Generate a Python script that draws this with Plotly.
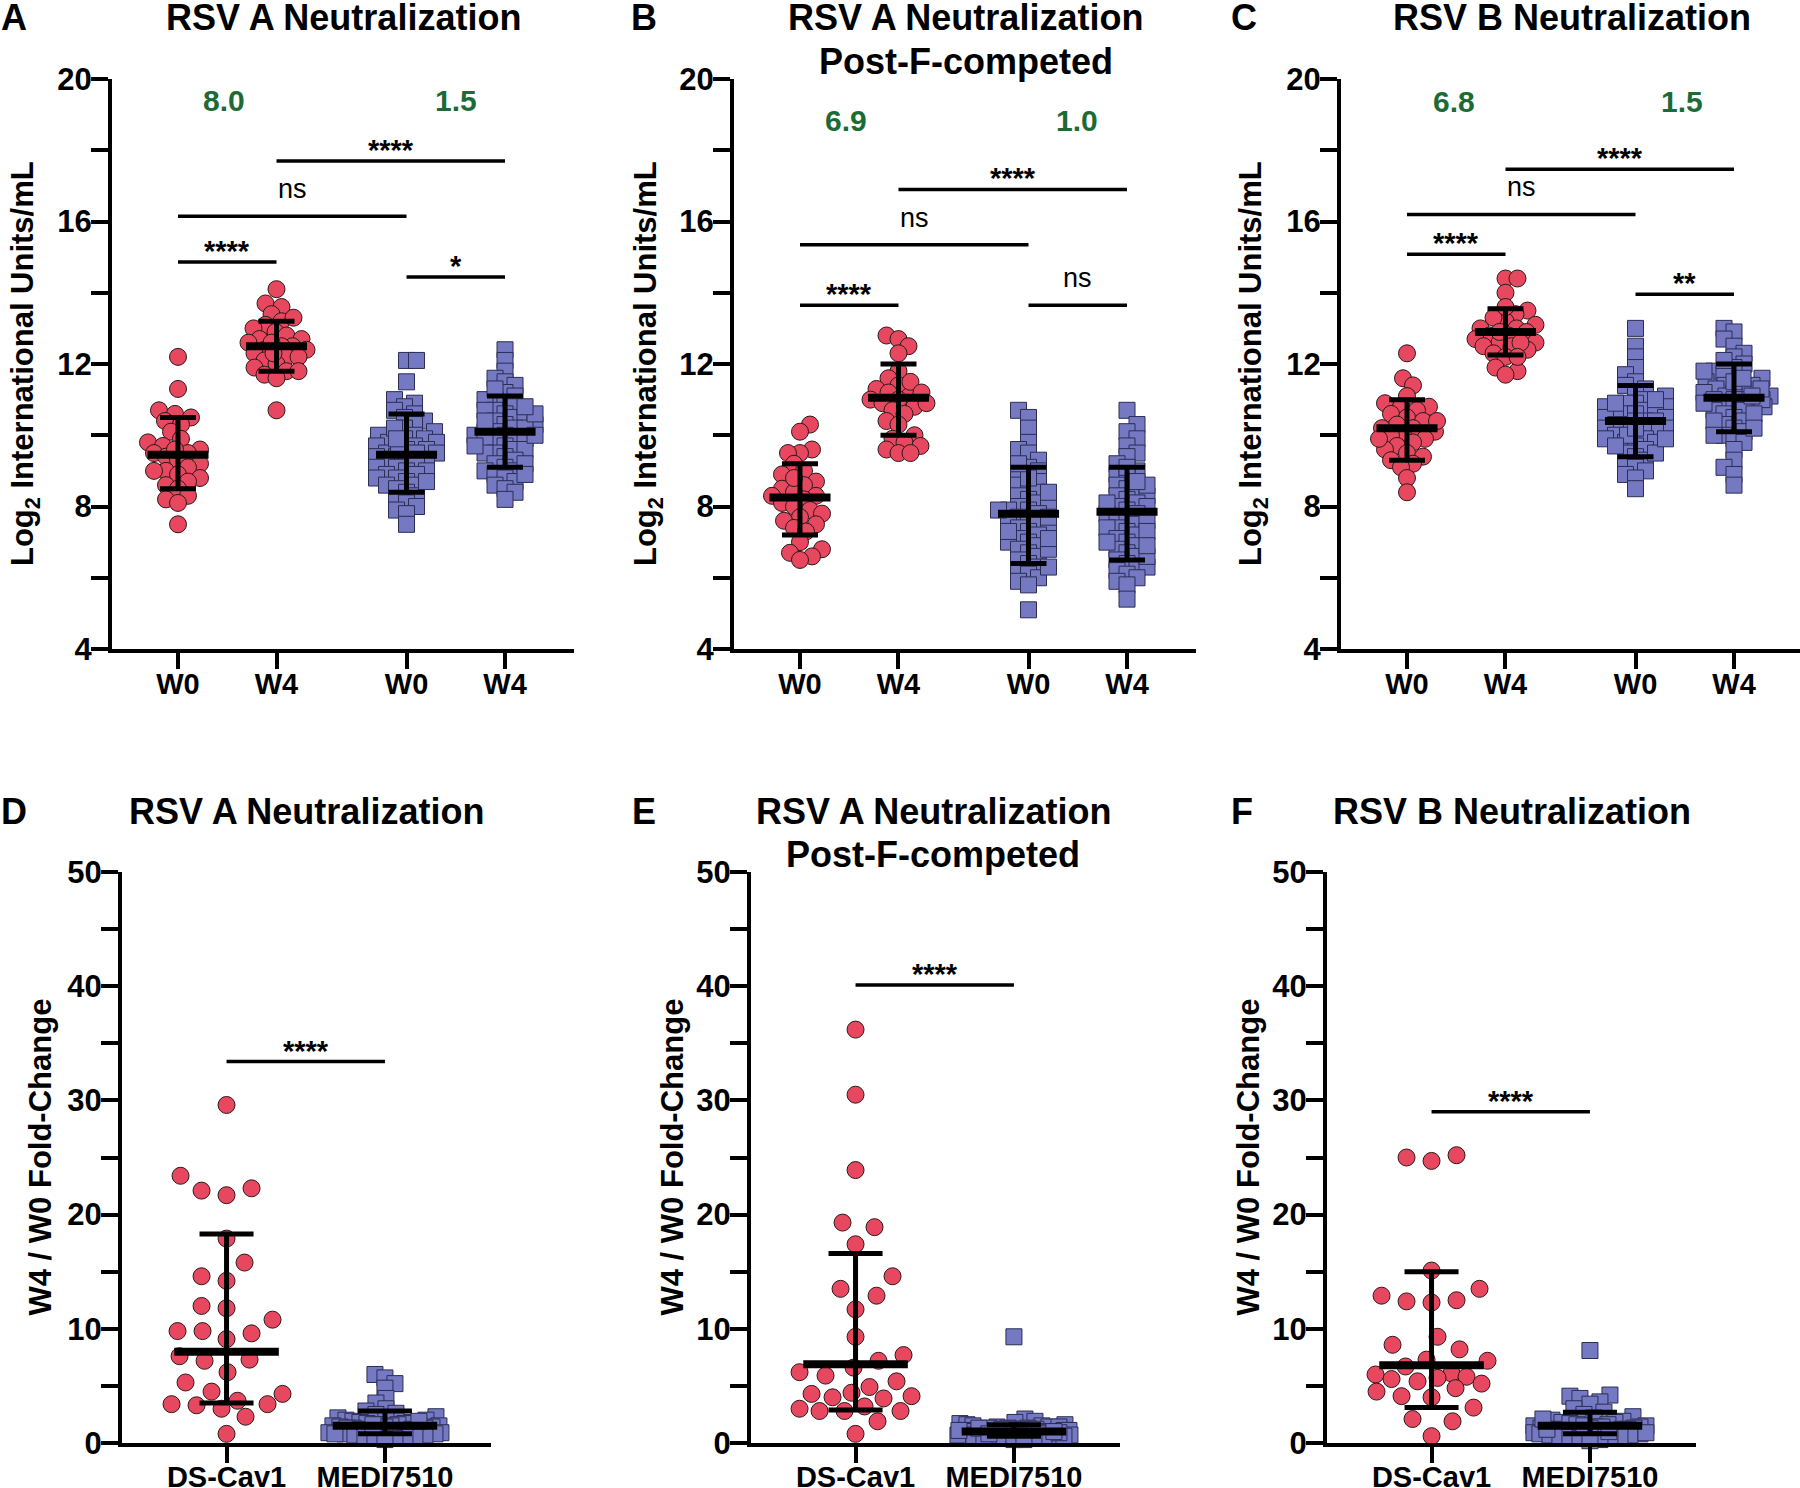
import numpy as np
import plotly.graph_objects as go

# ---- data ----
top_labels = ['W0', 'W4', 'W0', 'W4']
bottom_labels = ['DS-Cav1', 'MEDI7510']

# Panel A: RSV A neutralization, log2 IU/mL
a_ds_w0 = [12.2, 11.3, 10.7, 10.6, 10.5, 10.4, 10.3, 10.1, 9.9, 9.8, 9.7, 9.6, 9.5, 9.5, 9.4,
           9.3, 9.2, 9.1, 9.0, 9.0, 8.9, 8.8, 8.7, 8.6, 8.5, 8.3, 8.2, 8.1, 7.5, 9.6]
a_ds_w4 = [14.1, 13.7, 13.6, 13.4, 13.2, 13.1, 13.0, 12.9, 12.8, 12.7, 12.7, 12.6, 12.5, 12.5, 12.4,
           12.4, 12.3, 12.2, 12.2, 12.1, 12.0, 11.9, 11.8, 11.8, 11.7, 11.6, 12.6, 12.3, 13.3, 10.7]
a_medi_w0 = [12.1, 12.1, 11.5, 11.0, 10.9, 10.8, 10.7, 10.6, 10.5, 10.4, 10.3, 10.2, 10.1, 10.0, 10.0,
             9.9, 9.9, 9.8, 9.8, 9.7, 9.7, 9.6, 9.6, 9.5, 9.5, 9.5, 9.4, 9.4, 9.3, 9.3, 9.2, 9.2,
             9.1, 9.1, 9.0, 9.0, 8.9, 8.9, 8.8, 8.8, 8.7, 8.6, 8.6, 8.5, 8.4, 8.3, 8.2, 8.1, 8.0,
             7.9, 7.8, 7.5, 9.6, 10.2, 8.7, 9.9]
a_medi_w4 = [12.4, 12.1, 11.8, 11.6, 11.5, 11.4, 11.2, 11.1, 11.0, 11.0, 10.9, 10.8, 10.7, 10.7, 10.6,
             10.5, 10.5, 10.4, 10.3, 10.3, 10.2, 10.2, 10.1, 10.1, 10.0, 10.0, 9.9, 9.9, 9.8, 9.8,
             9.7, 9.6, 9.6, 9.5, 9.5, 9.4, 9.3, 9.2, 9.1, 9.0, 9.0, 8.9, 8.8, 8.7, 8.6, 8.5, 8.4,
             8.2, 10.4, 9.7, 10.6, 11.3, 9.2, 8.9, 10.0, 10.8]
a_center = [9.45, 12.5, 9.45, 10.1]
a_lo = [8.5, 11.8, 8.4, 9.1]
a_hi = [10.5, 13.2, 10.6, 11.1]
a_fold = ['8.0', '1.5']

# Panel B: RSV A neutralization, post-F-competed
b_ds_w0 = [10.3, 10.1, 9.6, 9.5, 9.5, 9.2, 9.0, 8.9, 8.7, 8.6, 8.5, 8.4, 8.3, 8.3, 8.2,
           8.1, 8.0, 7.9, 7.8, 7.7, 7.6, 7.5, 7.4, 7.3, 7.0, 6.8, 6.7, 6.6, 6.5, 8.8]
b_ds_w4 = [12.8, 12.7, 12.5, 12.3, 11.8, 11.6, 11.4, 11.3, 11.2, 11.1, 11.0, 11.0, 10.9, 10.8,
           10.7, 10.6, 10.4, 10.3, 10.0, 9.9, 9.8, 9.7, 9.6, 9.5, 9.5, 11.5, 10.9, 11.2]
b_medi_w0 = [10.7, 10.5, 10.2, 9.8, 9.6, 9.5, 9.3, 9.1, 9.0, 8.9, 8.7, 8.6, 8.5, 8.4, 8.3, 8.2,
             8.1, 8.0, 8.0, 7.9, 7.9, 7.8, 7.7, 7.6, 7.6, 7.5, 7.4, 7.4, 7.3, 7.2, 7.1, 7.0, 7.0,
             6.9, 6.8, 6.7, 6.6, 6.5, 6.4, 6.3, 6.2, 6.1, 6.0, 5.9, 5.8, 5.1, 8.8, 7.7, 7.3, 6.8,
             8.4, 9.2, 6.3, 7.9, 7.1]
b_medi_w4 = [10.7, 10.3, 10.1, 9.9, 9.7, 9.5, 9.4, 9.2, 9.0, 8.9, 8.8, 8.6, 8.5, 8.4, 8.3, 8.3,
             8.2, 8.1, 8.0, 8.0, 7.9, 7.8, 7.8, 7.7, 7.6, 7.5, 7.4, 7.4, 7.3, 7.2, 7.1, 7.0, 6.9,
             6.8, 6.7, 6.6, 6.5, 6.4, 6.3, 6.3, 6.2, 6.1, 6.0, 5.9, 5.8, 5.4, 8.6, 7.6, 7.0, 6.6,
             8.1, 9.1, 7.3, 6.9, 8.7]
b_center = [8.25, 11.05, 7.8, 7.85]
b_lo = [7.2, 10.0, 6.4, 6.5]
b_hi = [9.2, 12.0, 9.1, 9.1]
b_fold = ['6.9', '1.0']

# Panel C: RSV B neutralization
c_ds_w0 = [12.3, 11.6, 11.4, 11.1, 10.9, 10.8, 10.8, 10.7, 10.6, 10.5, 10.4, 10.3, 10.2, 10.2, 10.1,
           10.0, 10.0, 9.9, 9.8, 9.7, 9.6, 9.5, 9.4, 9.3, 9.2, 9.1, 8.8, 8.4, 10.4, 9.9]
c_ds_w4 = [14.4, 14.4, 14.0, 13.5, 13.4, 13.2, 13.1, 13.0, 13.0, 12.9, 12.8, 12.8, 12.7, 12.6,
           12.6, 12.5, 12.5, 12.4, 12.3, 12.2, 11.9, 11.8, 11.7, 13.3, 12.9, 12.6, 13.6, 12.2]
c_medi_w0 = [13.0, 12.5, 12.2, 11.9, 11.7, 11.5, 11.4, 11.3, 11.2, 11.1, 11.0, 10.9, 10.9, 10.8,
             10.8, 10.7, 10.7, 10.6, 10.6, 10.5, 10.5, 10.4, 10.4, 10.3, 10.3, 10.2, 10.2, 10.1,
             10.1, 10.0, 10.0, 9.9, 9.9, 9.8, 9.8, 9.7, 9.6, 9.5, 9.4, 9.3, 9.2, 9.1, 9.0, 8.9,
             8.8, 8.5, 10.6, 10.0, 11.0, 9.7, 10.4, 9.5, 10.9, 10.2, 9.9]
c_medi_w4 = [13.0, 12.9, 12.7, 12.5, 12.3, 12.2, 12.0, 11.9, 11.8, 11.7, 11.6, 11.5, 11.4, 11.4,
             11.3, 11.3, 11.2, 11.2, 11.1, 11.1, 11.0, 11.0, 11.0, 10.9, 10.9, 10.8, 10.8, 10.7,
             10.7, 10.6, 10.5, 10.4, 10.3, 10.2, 10.1, 10.0, 9.9, 9.8, 9.6, 9.3, 9.1, 8.9, 8.6,
             11.5, 11.0, 10.6, 11.8, 10.2, 11.3, 12.1, 10.9, 11.6, 10.4, 11.1, 10.0]
c_center = [10.2, 12.9, 10.4, 11.05]
c_lo = [9.3, 12.25, 9.4, 10.1]
c_hi = [11.0, 13.55, 11.4, 12.0]
c_fold = ['6.8', '1.5']

# Panels D-F: W4 / W0 fold-change
d_ds = [29.6, 23.4, 22.3, 22.1, 21.7, 17.9, 15.8, 14.6, 14.2, 12.0, 11.8, 10.8, 9.8, 9.8, 9.6,
        9.1, 7.6, 7.3, 7.2, 6.2, 5.3, 4.5, 4.3, 3.7, 3.4, 3.4, 3.3, 3.0, 2.3, 0.8]
d_medi = [6.0, 5.7, 5.2, 4.8, 3.9, 3.5, 3.0, 2.8, 2.6, 2.5, 2.3, 2.2, 2.1, 2.0, 2.0, 1.9, 1.8,
          1.8, 1.7, 1.7, 1.6, 1.6, 1.5, 1.5, 1.5, 1.4, 1.4, 1.4, 1.3, 1.3, 1.3, 1.2, 1.2, 1.2,
          1.1, 1.1, 1.1, 1.0, 1.0, 1.0, 0.9, 0.9, 0.9, 0.8, 0.8, 0.8, 0.7, 0.7, 0.6, 0.6, 0.5,
          0.5, 0.4, 0.3, 1.6, 1.9]
d_center = [8.0, 1.5]
d_lo = [3.5, 0.8]
d_hi = [18.3, 2.8]

e_ds = [36.2, 30.5, 23.9, 19.3, 18.9, 17.4, 14.6, 13.5, 12.9, 11.7, 9.3, 7.7, 7.2, 6.6, 6.2,
        5.9, 5.4, 4.9, 4.4, 4.3, 4.1, 4.0, 3.9, 3.2, 3.0, 2.8, 2.8, 2.8, 1.9, 0.8]
e_medi = [9.3, 2.1, 1.9, 1.8, 1.7, 1.6, 1.6, 1.5, 1.5, 1.4, 1.4, 1.4, 1.3, 1.3, 1.3, 1.2, 1.2,
          1.2, 1.2, 1.1, 1.1, 1.1, 1.1, 1.0, 1.0, 1.0, 1.0, 1.0, 0.9, 0.9, 0.9, 0.9, 0.8, 0.8,
          0.8, 0.8, 0.7, 0.7, 0.7, 0.7, 0.6, 0.6, 0.6, 0.5, 0.5, 0.5, 0.4, 0.4, 0.3, 0.3, 1.1,
          0.9, 1.3, 0.8, 1.0]
e_center = [6.9, 1.0]
e_lo = [2.9, 0.6]
e_hi = [16.6, 1.6]

f_ds = [25.2, 25.0, 24.7, 15.1, 13.5, 12.9, 12.5, 12.4, 12.3, 9.3, 8.6, 8.2, 7.3, 7.2, 6.7,
        6.1, 6.0, 5.8, 5.7, 5.6, 5.4, 5.2, 4.8, 4.5, 4.1, 4.0, 3.1, 2.1, 1.9, 0.6]
f_medi = [8.1, 4.2, 4.1, 3.9, 3.6, 3.4, 3.0, 2.7, 2.5, 2.3, 2.2, 2.0, 1.9, 1.8, 1.8, 1.7, 1.6,
          1.6, 1.5, 1.5, 1.4, 1.4, 1.4, 1.3, 1.3, 1.3, 1.2, 1.2, 1.2, 1.1, 1.1, 1.1, 1.0, 1.0,
          1.0, 0.9, 0.9, 0.9, 0.8, 0.8, 0.8, 0.7, 0.7, 0.6, 0.6, 0.5, 0.5, 0.4, 0.3, 0.2, 1.5,
          1.2, 0.9, 2.1, 1.0]
f_center = [6.8, 1.5]
f_lo = [3.1, 0.8]
f_hi = [15.0, 2.7]

# ---- layout constants ----
W, H = 1800, 1488
FONT = 'Arial, Liberation Sans, sans-serif'
RED = '#E8485F'
BLUE = '#7479C2'
GREEN = '#1C6B35'

TOP_POS = [0, 1, 2.32, 3.32]
BOT_POS = [0, 1]
TOP_Y = (649, 79)      # pixel rows of y=4 and y=20
BOT_Y = (1443, 872)    # pixel rows of y=0 and y=50


def swarm(vals, xs, ys, d, maxw, square):
    """Simple beeswarm: horizontal offsets (in axis units) so markers do not pile up."""
    vals = np.asarray(vals, dtype=float)
    order = np.argsort(vals, kind='stable')
    steps = np.arange(0, maxw + 0.5, 1.0)
    cands = sorted(np.concatenate([steps, -steps[1:]]), key=lambda c: (abs(c), c))
    px, py = [], []
    offs = np.zeros(len(vals))
    for k, i in enumerate(order):
        y = vals[i] * ys
        best, best_ov = 0.0, None
        ax, ay = np.array(px), np.array(py)
        for c in cands:
            c = c if k % 2 == 0 else -c
            if len(ax):
                dx = np.abs(ax - c)
                dy = np.abs(ay - y)
                dist = np.maximum(dx, dy) if square else np.hypot(dx, dy)
                ov = float((d - dist).max())
            else:
                ov = 0.0
            if ov <= 0:
                best, best_ov = c, 0
                break
            if best_ov is None or ov < best_ov:
                best, best_ov = c, ov
        px.append(best)
        py.append(y)
        offs[i] = best / xs
    return offs


panels = [
    dict(letter='A', title=['RSV A Neutralization'], xd=(112, 574), top=True,
         groups=[a_ds_w0, a_ds_w4, a_medi_w0, a_medi_w4], center=a_center, lo=a_lo, hi=a_hi,
         fold=a_fold, fold_xy=([0.47, 2.82], 19.4),
         brackets=[(0, 1, 14.86, '****'), (0, 2, 16.15, 'ns'), (1, 3, 17.70, '****'), (2, 3, 14.44, '*')],
         letter_px=(14, 18), title_px=(343, [18]), ytitle_px=25),
    dict(letter='B', title=['RSV A Neutralization', 'Post-F-competed'], xd=(734, 1196), top=True,
         groups=[b_ds_w0, b_ds_w4, b_medi_w0, b_medi_w4], center=b_center, lo=b_lo, hi=b_hi,
         fold=b_fold, fold_xy=([0.47, 2.81], 18.84),
         brackets=[(0, 1, 13.65, '****'), (0, 2, 15.35, 'ns'), (1, 3, 16.9, '****'), (2, 3, 13.65, 'ns')],
         letter_px=(644, 18), title_px=(966, [18, 62]), ytitle_px=648),
    dict(letter='C', title=['RSV B Neutralization'], xd=(1341, 1800), top=True,
         groups=[c_ds_w0, c_ds_w4, c_medi_w0, c_medi_w4], center=c_center, lo=c_lo, hi=c_hi,
         fold=c_fold, fold_xy=([0.48, 2.79], 19.38),
         brackets=[(0, 1, 15.08, '****'), (0, 2, 16.2, 'ns'), (1, 3, 17.47, '****'), (2, 3, 13.96, '**')],
         letter_px=(1244, 18), title_px=(1572, [18]), ytitle_px=1253),
    dict(letter='D', title=['RSV A Neutralization'], xd=(122, 491), top=False,
         groups=[d_ds, d_medi], center=d_center, lo=d_lo, hi=d_hi,
         brackets=[(0, 1, 33.4, '****')],
         letter_px=(14, 811), title_px=(306, [811]), ytitle_px=40),
    dict(letter='E', title=['RSV A Neutralization', 'Post-F-competed'], xd=(751, 1120), top=False,
         groups=[e_ds, e_medi], center=e_center, lo=e_lo, hi=e_hi,
         brackets=[(0, 1, 40.1, '****')],
         letter_px=(644, 811), title_px=(933, [811, 854]), ytitle_px=672),
    dict(letter='F', title=['RSV B Neutralization'], xd=(1327, 1696), top=False,
         groups=[f_ds, f_medi], center=f_center, lo=f_lo, hi=f_hi,
         brackets=[(0, 1, 29.0, '****')],
         letter_px=(1242, 811), title_px=(1512, [811]), ytitle_px=1248),
]

fig = go.Figure()
annotations = []
axis_line = dict(showline=True, linecolor='black', linewidth=4, ticks='outside', tickcolor='black',
                 tickwidth=4, showgrid=False, zeroline=False, fixedrange=True, automargin=False)

for n, p in enumerate(panels):
    sfx = '' if n == 0 else str(n + 1)
    xref, yref = 'x' + sfx, 'y' + sfx
    if p['top']:
        pos, labels = TOP_POS, top_labels
        yr, ypix = [4, 20], TOP_Y
        major, minor = [4, 8, 12, 16, 20], [6, 10, 14, 18]
        ytitle = 'Log<sub>2</sub> International Units/mL'
    else:
        pos, labels = BOT_POS, bottom_labels
        yr, ypix = [0, 50], BOT_Y
        major, minor = [0, 10, 20, 30, 40, 50], [5, 15, 25, 35, 45]
        ytitle = 'W4 / W0 Fold-Change'

    x0 = -0.67 if p['top'] else -0.66
    unit = 98.5 if p['top'] else 158.4
    x1 = x0 + (p['xd'][1] - p['xd'][0]) / unit
    ys = (ypix[0] - ypix[1]) / (yr[1] - yr[0])

    fig.layout['xaxis' + sfx] = dict(
        domain=[p['xd'][0] / W, p['xd'][1] / W], range=[x0, x1], anchor=yref,
        tickvals=pos, ticktext=labels, ticklen=16,
        ticklabelstandoff=-10 if p['top'] else -11,
        tickfont=dict(family=FONT, size=29, color='black', weight='bold'), **axis_line)
    fig.layout['yaxis' + sfx] = dict(
        domain=[1 - ypix[0] / H, 1 - ypix[1] / H], range=yr, anchor=xref,
        tickvals=major, ticklen=17, ticklabelstandoff=-7,
        minor=dict(tickvals=minor, ticks='outside', ticklen=17, tickwidth=4, tickcolor='black'),
        tickfont=dict(family=FONT, size=31, color='black', weight='bold'), **axis_line)

    # individual points
    for g, vals in enumerate(p['groups']):
        is_ds = (g < 2) if p['top'] else (g == 0)
        if is_ds:
            if p['top']:
                offs = swarm(vals, unit, ys, 12, 30, False)
            else:
                offs = swarm(vals, unit, ys, 25, 56, False)
            marker = dict(symbol='circle', size=17, color=RED, line=dict(color='#2a1a1a', width=1))
        else:
            offs = swarm(vals, unit, ys, 10, 36 if p['top'] else 56, True)
            marker = dict(symbol='square', size=16, color=BLUE, line=dict(color='#2b2d55', width=1))
        fig.add_trace(go.Scatter(x=pos[g] + offs, y=vals, mode='markers', marker=marker,
                                 xaxis=xref, yaxis=yref, cliponaxis=False, hoverinfo='y'))

    # mean / SD bars
    half = 0.31 if p['top'] else 0.33
    for g in range(len(p['groups'])):
        m, lo, hi = p['center'][g], p['lo'][g], p['hi'][g]
        fig.add_trace(go.Scatter(
            x=[pos[g]], y=[m], mode='markers', marker=dict(size=1, color='rgba(0,0,0,0)'),
            error_y=dict(type='data', symmetric=False, array=[hi - m], arrayminus=[m - lo],
                         color='black', thickness=5, width=18 if p['top'] else 27),
            xaxis=xref, yaxis=yref, cliponaxis=False, hoverinfo='skip'))
        fig.add_trace(go.Scatter(
            x=[pos[g] - half, pos[g] + half], y=[m, m], mode='lines',
            line=dict(color='black', width=8), xaxis=xref, yaxis=yref, hoverinfo='skip'))

    # significance brackets
    for (i, j, yb, txt) in p['brackets']:
        fig.add_trace(go.Scatter(
            x=[pos[i], pos[j]], y=[yb, yb], mode='lines', line=dict(color='black', width=3.5),
            xaxis=xref, yaxis=yref, hoverinfo='skip', cliponaxis=False))
        star = txt != 'ns'
        annotations.append(dict(
            x=(pos[i] + pos[j]) / 2, y=yb, xref=xref, yref=yref, text=txt, showarrow=False,
            xanchor='center', yanchor='middle', yshift=11 if star else 27,
            font=dict(family=FONT, size=29 if star else 27, color='black',
                      weight='bold' if star else 'normal')))

    # fold-change labels
    if 'fold' in p:
        for xv, txt in zip(p['fold_xy'][0], p['fold']):
            annotations.append(dict(x=xv, y=p['fold_xy'][1], xref=xref, yref=yref, text=txt,
                                    showarrow=False, xanchor='center', yanchor='middle',
                                    font=dict(family=FONT, size=30, color=GREEN, weight='bold')))

    # titles, panel letters, y titles
    for line, ty in zip(p['title'], p['title_px'][1]):
        annotations.append(dict(x=p['title_px'][0] / W, y=1 - ty / H, xref='paper', yref='paper',
                                text=line, showarrow=False, xanchor='center', yanchor='middle',
                                font=dict(family=FONT, size=36, color='black', weight='bold')))
    annotations.append(dict(x=p['letter_px'][0] / W, y=1 - p['letter_px'][1] / H, xref='paper',
                            yref='paper', text=p['letter'], showarrow=False,
                            xanchor='center', yanchor='middle',
                            font=dict(family=FONT, size=36, color='black', weight='bold')))
    annotations.append(dict(x=p['ytitle_px'] / W, y=1 - (ypix[0] + ypix[1]) / 2 / H, xref='paper',
                            yref='paper', text=ytitle, showarrow=False, textangle=-90,
                            xanchor='center', yanchor='middle',
                            font=dict(family=FONT, size=31, color='black', weight='bold')))

fig.update_layout(width=W, height=H, margin=dict(l=0, r=0, t=0, b=0, autoexpand=False),
                  paper_bgcolor='white', plot_bgcolor='white', showlegend=False,
                  annotations=annotations)

fig.write_html('out.html', config={'displayModeBar': False},
               post_script="document.body.style.margin='0px';")
